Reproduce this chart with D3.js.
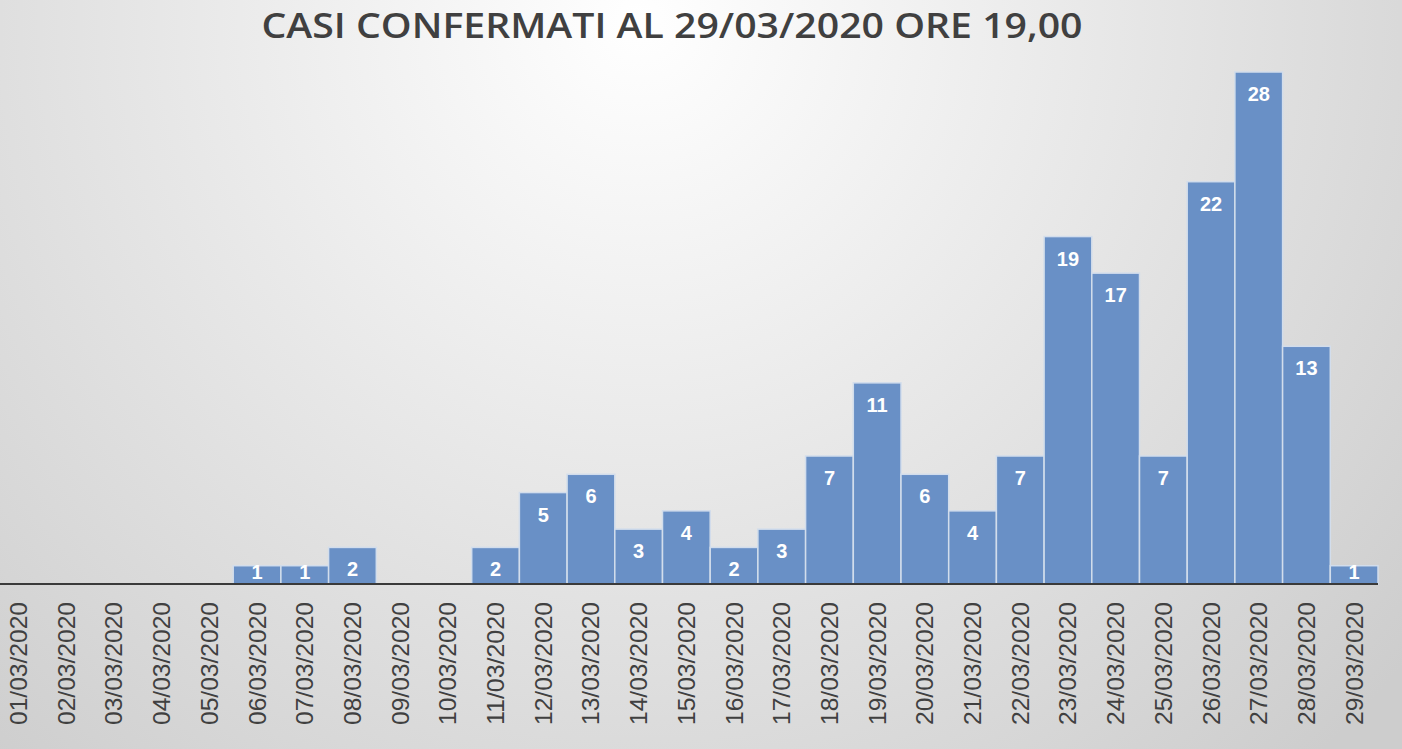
<!DOCTYPE html>
<html>
<head>
<meta charset="utf-8">
<script src="https://cdn.jsdelivr.net/npm/d3@7"></script>
<style>
  html, body { margin: 0; padding: 0; overflow: hidden; }
  svg { display: block; }
</style>
</head>
<body>
<div id="chart"></div>
<script>
'use strict';

// chart data
var titleText = "CASI CONFERMATI AL 29/03/2020 ORE 19,00";
var dates = [
    "01/03/2020", "02/03/2020", "03/03/2020", "04/03/2020", "05/03/2020",
    "06/03/2020", "07/03/2020", "08/03/2020", "09/03/2020", "10/03/2020",
    "11/03/2020", "12/03/2020", "13/03/2020", "14/03/2020", "15/03/2020",
    "16/03/2020", "17/03/2020", "18/03/2020", "19/03/2020", "20/03/2020",
    "21/03/2020", "22/03/2020", "23/03/2020", "24/03/2020", "25/03/2020",
    "26/03/2020", "27/03/2020", "28/03/2020", "29/03/2020"
];
var cases = [0, 0, 0, 0, 0, 1, 1, 2, 0, 0, 2, 5, 6, 3, 4, 2, 3, 7, 11, 6, 4, 7, 19, 17, 7, 22, 28, 13, 1];

(function() {
    var width = 1402, height = 749;
    var baseY = 584;

    var svg = d3.select("#chart").append("svg")
        .attr("width", width)
        .attr("height", height);

    // soft radial background like the office template
    var defs = svg.append("defs");
    var grad = defs.append("radialGradient")
        .attr("id", "bg")
        .attr("gradientUnits", "userSpaceOnUse")
        .attr("cx", 640).attr("cy", 20).attr("r", 1000);
    grad.append("stop").attr("offset", "0%").attr("stop-color", "#ffffff");
    grad.append("stop").attr("offset", "100%").attr("stop-color", "#cdcdcd");

    svg.append("rect")
        .attr("width", width).attr("height", height)
        .attr("fill", "url(#bg)");

    var data = dates.map(function(d, i) { return { date: d, value: cases[i] }; });

    var x = d3.scaleBand()
        .domain(dates)
        .range([-5.3, 1378])
        .padding(0);

    var y = d3.scaleLinear()
        .domain([0, 28])
        .range([baseY, 72]);

    // bars
    svg.append("g").selectAll("rect")
        .data(data.filter(function(d) { return d.value > 0; }))
        .enter().append("rect")
        .attr("x", function(d) { return x(d.date); })
        .attr("y", function(d) { return y(d.value); })
        .attr("width", x.bandwidth())
        .attr("height", function(d) { return baseY - y(d.value); })
        .attr("fill", "#6990c6")
        .attr("stroke", "#d2ddec")
        .attr("stroke-width", 1.5);

    // value labels
    svg.append("g").selectAll("text")
        .data(data.filter(function(d) { return d.value > 0; }))
        .enter().append("text")
        .attr("x", function(d) { return x(d.date) + x.bandwidth() / 2; })
        .attr("y", function(d) { return Math.min(y(d.value) + 29, 579); })
        .attr("text-anchor", "middle")
        .style("font-family", "'Liberation Sans', Arial, sans-serif")
        .style("font-weight", "bold")
        .style("font-size", "20px")
        .style("fill", "#ffffff")
        .text(function(d) { return d.value; });

    // x axis line
    svg.append("line")
        .attr("x1", 0).attr("x2", 1378)
        .attr("y1", baseY).attr("y2", baseY)
        .attr("stroke", "#3a3a3a")
        .attr("stroke-width", 2);

    // rotated date labels
    svg.append("g").selectAll("text")
        .data(dates)
        .enter().append("text")
        .attr("transform", function(d) {
            return "translate(" + (x(d) + x.bandwidth() / 2 + 8.5) + "," + 602 + ") rotate(-90)";
        })
        .attr("text-anchor", "end")
        .attr("textLength", 123)
        .attr("lengthAdjust", "spacingAndGlyphs")
        .style("font-family", "'Liberation Sans', Arial, sans-serif")
        .style("font-size", "24px")
        .style("fill", "#404040")
        .text(function(d) { return d; });

    // title
    svg.append("text")
        .attr("x", 672)
        .attr("y", 38)
        .attr("text-anchor", "middle")
        .attr("textLength", 821)
        .attr("lengthAdjust", "spacingAndGlyphs")
        .style("font-family", "'Open Sans', sans-serif")
        .style("font-weight", 600)
        .style("font-size", "34px")
        .style("fill", "#404040")
        .text(titleText);
})();
</script>
</body>
</html>
